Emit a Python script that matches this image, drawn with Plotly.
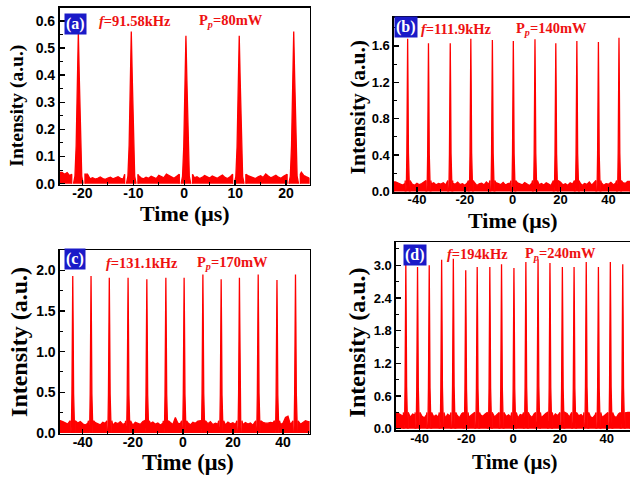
import plotly.graph_objects as go

W, H = 630, 482

# ---------------- data ----------------
# panel (a)  f = 91.58 kHz, Pp = 80 mW
a_centers = [-20.8, -10.4, 0.33, 10.8, 21.5]
a_heights = [0.558, 0.561, 0.545, 0.545, 0.561]
a_noise_start, a_noise_step = -24.5, 0.5
a_noise = [38, 42, 35, 41, 30, 36, 33, 40, 27, 22, 30, 35, 18, 22, 17, 20, 25, 19, 16, 21, 24, 18, 22, 26, 20, 17, 23, 28, 21, 19,
           25, 30, 22, 18, 24, 20, 27, 23, 19, 31, 26, 22, 35, 29, 24, 20, 27, 33, 25, 21, 18, 24, 29, 22, 26, 19, 23, 30, 25, 21,
           28, 24, 20, 26, 32, 23, 19, 25, 22, 28, 34, 26, 21, 24, 30, 27, 22, 19, 25, 29, 23, 36, 28, 22, 26, 31, 24, 20, 27, 33,
           29, 22, 35, 40, 38, 42, 30, 25, 20]

# panel (b)  f = 111.9 kHz, Pp = 140 mW
b_centers = [-43.9, -35.2, -26.1, -17.5, -8.5, 0.25, 9.3, 18.0, 26.8, 35.8, 44.4]
b_heights = [1.68, 1.63, 1.63, 1.68, 1.665, 1.654, 1.672, 1.63, 1.654, 1.643, 1.69]
b_noise_start, b_noise_step = -50, 1
b_noise = [118, 104, 92, 85, 70, 88, 76, 95, 82, 68, 90, 74, 86, 100, 78, 66, 84, 95, 72, 88,
           80, 96, 70, 85, 62, 90, 78, 102, 74, 86, 68, 92, 80, 75, 98, 66, 84, 90, 72, 104,
           78, 88, 64, 96, 82, 74, 100, 70, 86, 92, 76, 68, 94, 84, 72, 98, 80, 66, 90, 78,
           102, 74, 88, 70, 96, 82, 64, 92, 76, 86, 100, 72, 84, 68, 94, 80, 90, 74, 98, 66,
           88, 78, 104, 70, 92, 84, 76, 96, 68, 86, 80, 100, 74, 90, 82, 70, 96, 88, 110, 120]

# panel (c)  f = 131.1 kHz, Pp = 170 mW
c_centers = [-44.0, -36.7, -29.4, -21.9, -14.4, -6.8, 0.5, 8.0, 15.3, 22.6, 30.1, 37.6, 45.0]
c_heights = [1.93, 1.93, 1.91, 1.91, 1.89, 1.91, 1.91, 1.95, 1.89, 1.91, 1.95, 1.88, 1.95]
c_noise_start, c_noise_step = -49, 1
c_noise = [150, 140, 125, 110, 130, 118, 105, 122, 140, 112, 98, 120, 135, 108, 126, 115, 100, 132, 118, 145,
           110, 96, 128, 114, 138, 104, 120, 160, 112, 95, 130, 118, 106, 140, 125, 100, 115, 135, 108, 122,
           98, 118, 142, 110, 128, 104, 190, 120, 112, 136, 106, 124, 100, 132, 118, 145, 110, 96, 126, 114,
           138, 102, 120, 108, 130, 116, 98, 134, 112, 125, 104, 140, 118, 100, 128, 110, 122, 96, 136, 114,
           106, 130, 120, 120, 130, 125, 110, 135, 104, 120, 190, 205, 100, 128, 118, 145, 108, 130, 150, 140]

# panel (d)  f = 194 kHz, Pp = 240 mW
d_centers = [-45.9, -40.9, -35.9, -30.6, -25.6, -20.3, -15.4, -10.0, -5.0, 0.3,
             5.4, 10.6, 15.7, 21.0, 26.0, 31.2, 36.4, 41.5, 46.8]
d_heights = [3.08, 2.97, 3.0, 3.10, 3.12, 2.91, 2.97, 2.97, 3.02, 2.95,
             3.06, 3.11, 3.04, 2.97, 2.97, 3.06, 2.97, 3.06, 3.02]
d_noise_start, d_noise_step = -50, 1
d_noise = [300, 280, 250, 230, 260, 240, 210, 270, 250, 220, 280, 230, 200, 260, 240, 290, 220, 250, 210, 270,
           240, 195, 265, 230, 280, 215, 250, 200, 275, 235, 260, 210, 245, 285, 220, 190, 255, 230, 270, 205,
           245, 280, 215, 260, 200, 240, 290, 225, 255, 210, 270, 235, 195, 260, 245, 280, 215, 250, 205, 275,
           230, 260, 200, 245, 285, 220, 255, 210, 270, 240, 195, 265, 230, 280, 215, 250, 205, 275, 235, 260,
           210, 245, 290, 220, 200, 255, 230, 270, 205, 245, 280, 215, 260, 240, 200, 270, 235, 255, 290, 300]

# pulse profile (offset in half-base units, fraction of peak)
pulse_dx = [-1.0, -0.7, -0.45, -0.2, 0.0, 0.2, 0.45, 0.7, 1.0]
pulse_rel = [0.0, 0.05, 0.25, 0.7, 1.0, 0.7, 0.25, 0.05, 0.0]

labels = ["(a)", "(b)", "(c)", "(d)"]
freqs = ["91.58kHz", "111.9kHz", "131.1kHz", "194kHz"]
powers = ["80mW", "140mW", "170mW", "240mW"]

a_yticks = [0.0, 0.1, 0.2, 0.3, 0.4, 0.5, 0.6]
b_yticks = [0.0, 0.4, 0.8, 1.2, 1.6]
c_yticks = [0.0, 0.5, 1.0, 1.5, 2.0]
d_yticks = [0.0, 0.6, 1.2, 1.8, 2.4, 3.0]
a_xticks = [-20, -10, 0, 10, 20]
bcd_xticks = [-40, -20, 0, 20, 40]

# ---------------- layout helpers (pixels) ----------------
def px(x):
    return x / W

def py(y):
    return 1 - y / H

RED = "#ff0000"
panels = [
    dict(centers=a_centers, heights=a_heights, start=a_noise_start, step=a_noise_step, noise=a_noise,
         xr=[-24.5, 24.6], yr=[-0.004, 0.648], box=(59.5, 309.5, 8, 187.5), gb=1.3, gp=0.95, sh=0.035,
         xt=a_xticks, yt=a_yticks, ydt=0.1, xdt=10, right=True, tfs=14,
         ytitle=(16.7, 107.5, 19.5), xtitle=(185, 217, 22),
         lab=(75, 24), f=(135, 21), p=(231, 21)),
    dict(centers=b_centers, heights=b_heights, start=b_noise_start, step=b_noise_step, noise=b_noise,
         xr=[-49.6, 49.0], yr=[-0.008, 1.91], box=(394, 630, 18, 195), gb=1.0, gp=0.75, sh=0.12,
         xt=bcd_xticks, yt=b_yticks, ydt=0.4, xdt=20, right=False, tfs=13,
         ytitle=(358, 109, 21.5), xtitle=(513, 224, 22),
         lab=(406, 27), f=(456, 29), p=(551, 29)),
    dict(centers=c_centers, heights=c_heights, start=c_noise_start, step=c_noise_step, noise=c_noise,
         xr=[-49.1, 50.6], yr=[-0.008, 2.246], box=(60, 309.5, 254, 440), gb=1.0, gp=0.75, sh=0.15,
         xt=bcd_xticks, yt=c_yticks, ydt=0.5, xdt=20, right=True, tfs=14,
         ytitle=(19, 347, 24), xtitle=(188, 469, 22.5),
         lab=(74.5, 263), f=(141.5, 267), p=(232.5, 267)),
    dict(centers=d_centers, heights=d_heights, start=d_noise_start, step=d_noise_step, noise=d_noise,
         xr=[-50.1, 49.9], yr=[-0.03, 3.42], box=(396, 630, 246, 436.7), gb=1.0, gp=0.75, sh=0.30,
         xt=bcd_xticks, yt=d_yticks, ydt=0.6, xdt=20, right=False, tfs=13,
         ytitle=(357, 347.5, 24), xtitle=(515, 469, 21),
         lab=(415, 258.5), f=(477.5, 258), p=(560.5, 258)),
]


def build(p):
    gx = [p["start"] + i * p["step"] for i in range(len(p["noise"]))]
    gy = [v / 1000 for v in p["noise"]]
    edges = [p["xr"][0]]
    for c in p["centers"]:
        edges += [c - p["gb"], c + p["gb"]]
    edges.append(p["xr"][1])
    xs, ys = [], []
    nseg = len(edges) // 2
    for k in range(nseg):
        lo, hi = edges[2 * k], edges[2 * k + 1]
        pts = [(x, y) for x, y in zip(gx, gy) if lo < x < hi]
        lo_y = p["sh"] if k > 0 else (pts[0][1] if pts else p["sh"])
        hi_y = p["sh"] if k < nseg - 1 else (pts[-1][1] if pts else p["sh"])
        seg = [(lo, 0), (lo, lo_y)] + pts + [(hi, hi_y), (hi, 0)]
        xs += [s[0] for s in seg] + [None]
        ys += [s[1] for s in seg] + [None]
    for c, h in zip(p["centers"], p["heights"]):
        for dx, r in zip(pulse_dx, pulse_rel):
            xs.append(c + dx * p["gp"])
            ys.append(h * r)
        xs.append(None)
        ys.append(None)
    return xs, ys


fig = go.Figure()
annotations = []
layout = {}
SERIF = "Liberation Serif"
SANS = "Liberation Sans"

for i, p in enumerate(panels):
    n = "" if i == 0 else str(i + 1)
    xs, ys = build(p)
    fig.add_trace(go.Scatter(x=xs, y=ys, mode="lines", fill="toself", fillcolor=RED,
                             line=dict(color=RED, width=1.3), xaxis="x" + n, yaxis="y" + n,
                             hoverinfo="skip", showlegend=False, connectgaps=False))
    x0, x1, y0, y1 = p["box"]
    layout["xaxis" + n] = dict(
        domain=[px(x0), min(1.0, px(x1))], range=p["xr"], anchor="y" + n,
        showline=True, linecolor="black", linewidth=1.6, mirror=True,
        ticks="inside", ticklen=5, tickwidth=1.4, tickcolor="black",
        tickmode="array", tickvals=p["xt"], ticktext=[str(v) for v in p["xt"]],
        ticklabelstandoff=-5,
        tickfont=dict(family=SANS, size=p["tfs"], color="black", weight="bold"),
        minor=dict(ticks="inside", ticklen=3, tickwidth=1, tickcolor="black", dtick=p["xdt"] / 2),
        showgrid=False, zeroline=False, fixedrange=True)
    layout["yaxis" + n] = dict(
        domain=[py(y1), py(y0)], range=p["yr"], anchor="x" + n,
        showline=True, linecolor="black", linewidth=1.6, mirror=p["right"],
        ticks="inside", ticklen=5, tickwidth=1.4, tickcolor="black",
        tickmode="array", tickvals=p["yt"], ticktext=["%.1f" % v for v in p["yt"]],
        tickfont=dict(family=SANS, size=p["tfs"], color="black", weight="bold"),
        minor=dict(ticks="inside", ticklen=3, tickwidth=1, tickcolor="black", dtick=p["ydt"] / 2, tick0=0),
        showgrid=False, zeroline=False, fixedrange=True)

    tx, ty, ts = p["ytitle"]
    annotations.append(dict(x=px(tx), y=py(ty), xref="paper", yref="paper", text="Intensity (a.u.)",
                            textangle=-90, showarrow=False, xanchor="center", yanchor="middle",
                            font=dict(family=SERIF, size=ts, color="black", weight="bold")))
    tx, ty, ts = p["xtitle"]
    annotations.append(dict(x=px(tx), y=py(ty), xref="paper", yref="paper", text="Time (μs)",
                            showarrow=False, xanchor="center", yanchor="middle",
                            font=dict(family=SERIF, size=ts, color="black", weight="bold")))
    lx, ly = p["lab"]
    annotations.append(dict(x=px(lx), y=py(ly), xref="paper", yref="paper", text=labels[i],
                            showarrow=False, xanchor="center", yanchor="middle", bgcolor="#1a1ac8",
                            borderpad=1, font=dict(family=SERIF, size=16, color="white", weight="bold")))
    fx, fy = p["f"]
    annotations.append(dict(x=px(fx), y=py(fy), xref="paper", yref="paper",
                            text="<i>f</i>=" + freqs[i], showarrow=False, xanchor="center", yanchor="middle",
                            font=dict(family=SERIF, size=14.5, color="#ee1111", weight="bold")))
    qx, qy = p["p"]
    annotations.append(dict(x=px(qx), y=py(qy), xref="paper", yref="paper",
                            text="P<sub><i>p</i></sub>=" + powers[i], showarrow=False, xanchor="center",
                            yanchor="middle",
                            font=dict(family=SERIF, size=14.5, color="#ee1111", weight="bold")))

fig.update_layout(width=W, height=H, margin=dict(l=0, r=0, t=0, b=0),
                  paper_bgcolor="white", plot_bgcolor="white", annotations=annotations,
                  showlegend=False, hovermode=False, **layout)

# remove the browser's default 8px page margin so the figure sits at the window origin
fig.write_html("out.html", config={"displayModeBar": False, "staticPlot": True},
               post_script="document.body.style.margin='0';document.body.style.overflow='hidden';")
